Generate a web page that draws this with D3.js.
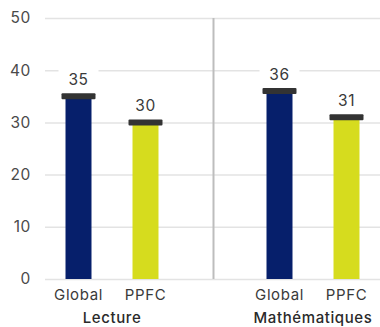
<!DOCTYPE html>
<html>
<head>
<meta charset="utf-8">
<script src="https://cdn.jsdelivr.net/npm/d3@7"></script>
<style>
  html, body { margin: 0; padding: 0; background: #fff; }
  svg { display: block; font-family: Inter, "Open Sans", sans-serif; }
  svg text { letter-spacing: 0.6px; }
</style>
</head>
<body>
<svg id="chart" width="380" height="327"></svg>
<script>
// Scores by subject and population
const subjects = ["Lecture", "Mathématiques"];
const series = ["Global", "PPFC"];
const globalValues = [35, 36];
const ppfcValues = [30, 31];
const yTicks = [0, 10, 20, 30, 40, 50];
const seriesColors = { Global: "#061f6b", PPFC: "#d6dc1e" };

const rows = [];
subjects.forEach((s, i) => {
  rows.push({ subject: s, series: "Global", value: globalValues[i] });
  rows.push({ subject: s, series: "PPFC", value: ppfcValues[i] });
});

// One slot per bar, plus a spacer slot between the two subjects
const slots = [
  subjects[0] + "|" + series[0], subjects[0] + "|" + series[1],
  "sep",
  subjects[1] + "|" + series[0], subjects[1] + "|" + series[1]
];

const svg = d3.select("#chart");
const margin = { left: 45, right: 0, top: 18, bottom: 48 };
const W = 380, H = 327;

const x = d3.scaleBand()
  .domain(slots)
  .range([margin.left, W - margin.right])
  .paddingInner(0.612)
  .paddingOuter(0.306);

const y = d3.scaleLinear()
  .domain([0, 50])
  .range([H - margin.bottom, margin.top]);

// Horizontal grid
svg.append("g")
  .selectAll("line")
  .data(yTicks)
  .join("line")
  .attr("x1", margin.left)
  .attr("x2", W)
  .attr("y1", d => y(d) + 0.5)
  .attr("y2", d => y(d) + 0.5)
  .attr("stroke", "#e3e3e3")
  .attr("stroke-width", 1.5);

// Y axis labels
const yAxis = d3.axisLeft(y).tickValues(yTicks).tickSize(0).tickPadding(0);
const gy = svg.append("g")
  .attr("transform", `translate(${margin.left - 14},0)`)
  .call(yAxis);
gy.select(".domain").remove();
gy.selectAll("text")
  .attr("font-size", 15.5)
  .attr("fill", "#4a4a4a")
  .style("font-family", "Inter, sans-serif");

// Divider between the two subjects
const sepX = x("sep") + x.bandwidth() / 2 + 1;
svg.append("line")
  .attr("x1", sepX).attr("x2", sepX)
  .attr("y1", y(50)).attr("y2", y(0))
  .attr("stroke", "#bdbdbd")
  .attr("stroke-width", 2);

const key = d => d.subject + "|" + d.series;
const capW = x.bandwidth() + 8;
const capH = 6;

// Bars
svg.append("g")
  .selectAll("rect")
  .data(rows)
  .join("rect")
  .attr("x", d => x(key(d)))
  .attr("width", x.bandwidth())
  .attr("y", d => y(d.value))
  .attr("height", d => y(0) - y(d.value))
  .attr("fill", d => seriesColors[d.series]);

// Dark caps at each bar's value
svg.append("g")
  .selectAll("rect")
  .data(rows)
  .join("rect")
  .attr("x", d => x(key(d)) + x.bandwidth() / 2 - capW / 2)
  .attr("width", capW)
  .attr("y", d => y(d.value) - capH / 2)
  .attr("height", capH)
  .attr("rx", 1)
  .attr("fill", "#333333");

// Value labels on a white backing
const lab = svg.append("g")
  .selectAll("g")
  .data(rows)
  .join("g")
  .attr("transform", d => `translate(${x(key(d)) + x.bandwidth() / 2},${y(d.value) - capH / 2 - 8})`);
lab.append("rect")
  .attr("x", -20).attr("width", 40)
  .attr("y", -20).attr("height", 24)
  .attr("fill", "#fff");
lab.append("text")
  .attr("text-anchor", "middle")
  .attr("font-size", 15.5)
  .attr("fill", "#3a3a3a")
  .text(d => d.value);

// Series labels under each bar
svg.append("g")
  .selectAll("text")
  .data(rows)
  .join("text")
  .attr("x", d => x(key(d)) + x.bandwidth() / 2)
  .attr("y", 300)
  .attr("text-anchor", "middle")
  .attr("font-size", 15)
  .attr("fill", "#3a3a3a")
  .text(d => d.series);

// Subject labels centred under each pair of bars
svg.append("g")
  .selectAll("text")
  .data(subjects)
  .join("text")
  .attr("x", s => (x(s + "|" + series[0]) + x(s + "|" + series[1]) + x.bandwidth()) / 2)
  .attr("y", 323)
  .attr("text-anchor", "middle")
  .attr("font-size", 15)
  .attr("font-weight", 500)
  .attr("fill", "#2a2a2a")
  .text(s => s);
</script>
</body>
</html>
